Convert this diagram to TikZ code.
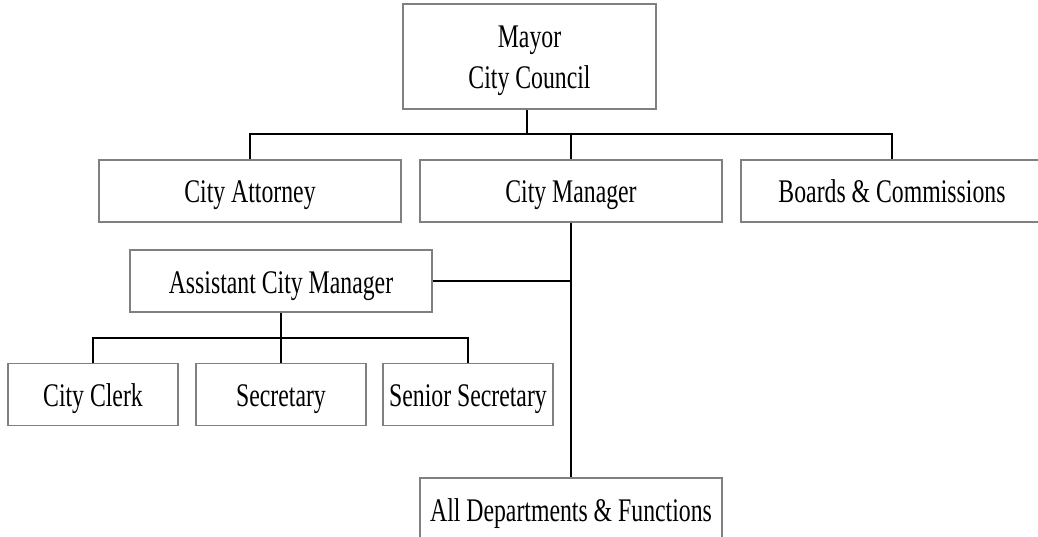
\documentclass[tikz,border=0pt]{standalone}
\usepackage{fontspec}
\setmainfont[FakeStretch=0.72]{Liberation Serif}
\begin{document}
\begin{tikzpicture}[x=1pt, y=-1pt,
  box/.style={draw=gray, line width=1.8pt, inner sep=0pt, minimum width=302pt, minimum height=62pt, text height=24pt, text depth=0pt, font=\fontsize{33}{41}\selectfont},
  smallbox/.style={box, minimum width=170pt},
  link/.style={black, line width=2pt}]
\clip (0,0) rectangle (1038,537);

% top
\node[box, minimum width=253pt, minimum height=105pt, text height=, text depth=, align=center] (mayor) at (529.5,56.5) {\rule{0pt}{31pt}Mayor\\City Council};

% second row
\node[box] (attorney) at (250,191) {City Attorney};
\node[box] (manager) at (571,191) {City Manager};
\node[box] (boards) at (892,191) {Boards \& Commissions};

% assistant and staff
\node[box] (acm) at (281,281) {Assistant City Manager};
\node[smallbox] (clerk) at (93,394.5) {City Clerk};
\node[smallbox] (secretary) at (281,394.5) {Secretary};
\node[smallbox] (senior) at (468,394.5) {Senior Secretary};

% bottom
\node[box] (depts) at (571,509) {All Departments \& Functions};

% links
\coordinate (topbus) at (527,134);
\coordinate (staffbus) at (281,338);
\draw[link] (mayor.south -| topbus) -- (topbus);
\draw[link] (attorney.north) |- (topbus) -| (boards.north);
\draw[link] (manager.north) -- (manager.north |- topbus);
\draw[link] (manager.south) -- (depts.north);
\draw[link] (acm.east) -- (acm.east -| manager.south);
\draw[link] (acm.south) -- (staffbus);
\draw[link] (clerk.north) |- (staffbus) -| (senior.north);
\draw[link] (secretary.north) -- (staffbus);

\end{tikzpicture}
\end{document}
